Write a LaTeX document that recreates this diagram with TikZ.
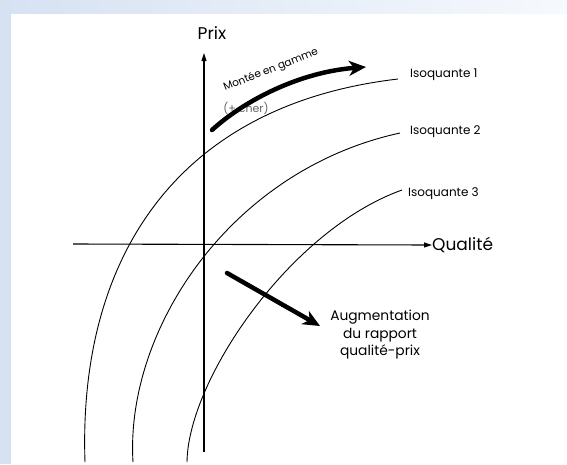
\documentclass[tikz,border=0pt]{standalone}
\usepackage{fontspec}
\setmainfont{Poppins}
\usetikzlibrary{arrows.meta, positioning}
\definecolor{bandblue}{HTML}{D6E2F2}
\definecolor{bandlight}{HTML}{F6F9FD}
\definecolor{chergray}{HTML}{666666}

\begin{document}
\begin{tikzpicture}[
  x=1pt, y=-1pt,
  ax/.style={line width=1.1pt, -{Triangle[length=8pt, width=5pt]}},
  iso/.style={line width=0.9pt},
  big/.style={line width=4.5pt, line cap=round,
              -{Stealth[length=17pt, width=15pt, inset=5pt]}},
  lab/.style={font=\fontsize{12}{14}\selectfont, anchor=west, inner sep=0pt},
  axlab/.style={font=\fontsize{17}{20}\selectfont, inner sep=0pt},
]
  \useasboundingbox (0,0) rectangle (567,464);
  \shade[left color=bandblue, right color=bandlight] (0,0) rectangle (567,13);
  \fill[bandblue] (0,0) rectangle (11,464);

  % axes
  \node[axlab] (prix) at (212,33) {Prix};
  \node[axlab, anchor=west] (qualite) at (432,245) {Qualité};
  \coordinate (ybot) at (204,452);
  \coordinate (ytop) at (204,53);
  \coordinate (xleft) at (73,244);
  \draw[ax] (ybot) -- (ytop);
  \draw[ax] (xleft) -- (qualite.west);

  % isoquants
  \draw[iso] (85,462) .. controls (78,260) and (175,105) .. (398,79);
  \draw[iso] (133,462) .. controls (125,330) and (230,170) .. (400,133);
  \draw[iso] (187,462) .. controls (188,380) and (290,230) .. (402,190);
  \node[lab] (iso1) at (410,75) {Isoquante 1};
  \node[lab] (iso2) at (410,132) {Isoquante 2};
  \node[lab] (iso3) at (408,194) {Isoquante 3};

  % montee en gamme
  \node[font=\fontsize{10.5}{12}\selectfont, rotate=21.5, inner sep=0pt] (montee) at (271,70) {Montée en gamme};
  \node[font=\fontsize{11}{13}\selectfont, text=chergray, inner sep=0pt] (cher) at (246,108) {(+ cher)};
  \coordinate (mstart) at (212,130);
  \coordinate (mend) at (366,67);
  \draw[big] (mstart) .. controls (245,100) and (300,72) .. (mend);

  % rapport qualite-prix
  \node[font=\fontsize{13.8}{17.5}\selectfont, align=center] (augm) at (380,335)
    {Augmentation\\du rapport\\qualité-prix};
  \coordinate (astart) at (227,273);
  \coordinate (aend) at (320,326);
  \draw[big] (astart) -- (aend);
\end{tikzpicture}
\end{document}
